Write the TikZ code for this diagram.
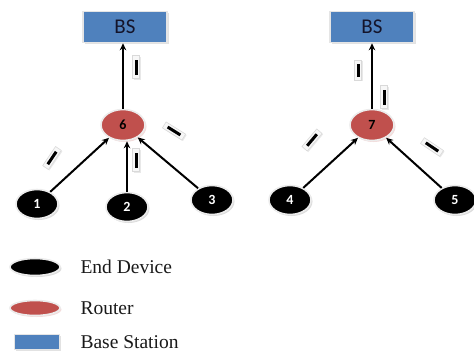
\documentclass[tikz,border=0pt]{standalone}
\usepackage{fontspec}
\setmainfont{Liberation Serif}
\newfontfamily\calib{Carlito}
\usetikzlibrary{shapes.geometric,shadows,arrows.meta}
\definecolor{rred}{HTML}{C0504D}
\definecolor{bblue}{HTML}{4F81BD}
\definecolor{bstext}{HTML}{14142A}
\begin{document}
\begin{tikzpicture}[x=1pt,y=-1pt,
 enddev/.style={ellipse, fill=black, draw=gray!15, line width=1.6pt, minimum width=42pt, minimum height=29pt, inner sep=0pt, text=white, font=\calib\bfseries\fontsize{14}{14}\selectfont, drop shadow={shadow xshift=1.5pt, shadow yshift=-1.5pt, fill=gray!55}},
 router/.style={ellipse, fill=rred, draw=gray!15, line width=1.6pt, minimum width=44pt, minimum height=31pt, inner sep=0pt, text=black, font=\calib\bfseries\fontsize{14}{14}\selectfont, drop shadow={shadow xshift=1.5pt, shadow yshift=-1.5pt, fill=rred!40}},
 bsbox/.style={rectangle, fill=bblue, draw=gray!20, line width=1.6pt, minimum width=84pt, minimum height=31pt, inner sep=0pt, font=\calib\fontsize{21}{21}\selectfont, text=bstext, drop shadow={shadow xshift=1.5pt, shadow yshift=-1.5pt, fill=gray!45}},
 lbl/.style={rectangle, fill=gray!6, draw=gray!30, line width=0.6pt, minimum width=7pt, minimum height=23pt, inner sep=0pt, drop shadow={shadow xshift=1pt, shadow yshift=-1pt, fill=gray!35}},
 legtext/.style={anchor=west, font=\fontsize{19.5}{19.5}\selectfont, text=black!90},
 conn/.style={-{Stealth[length=7pt,width=6.5pt]}, line width=2pt}]
\useasboundingbox (0,0) rectangle (474,356);

% left cluster
\node[bsbox] (bs1) at (125,27) {\raisebox{-4pt}{BS}};
\node[router] (r6) at (123,125) {6};
\node[enddev] (n1) at (37,204) {1};
\node[enddev] (n2) at (127,207) {2};
\node[enddev] (n3) at (212,200) {3};
\draw[conn] (r6.north) -- (r6.north |- bs1.south);
\draw[conn] (n1) -- (r6);
\draw[conn] (n2.north) -- (n2.north |- r6.south);
\draw[conn] (n3) -- (r6);
\node[lbl] (l1) at (136,67) {\rule{3pt}{15pt}};
\node[lbl] (l2) at (136,160) {\rule{3pt}{15pt}};
\node[lbl, rotate=58] (l3) at (174,131) {\rule{3pt}{15pt}};
\node[lbl, rotate=-34] (l4) at (52,158) {\rule{3pt}{15pt}};

% right cluster
\node[bsbox] (bs2) at (372,27) {\raisebox{-4pt}{BS}};
\node[router] (r7) at (372,125) {7};
\node[enddev] (n4) at (290,200) {4};
\node[enddev] (n5) at (455,200) {5};
\draw[conn] (r7.north) -- (r7.north |- bs2.south);
\draw[conn] (n4) -- (r7);
\draw[conn] (n5) -- (r7);
\node[lbl, minimum height=20pt] (l5) at (358,70) {\rule{3pt}{13pt}};
\node[lbl] (l6) at (384,97) {\rule{3pt}{15pt}};
\node[lbl, rotate=-40] (l7) at (312,140) {\rule{3pt}{15pt}};
\node[lbl, rotate=56] (l8) at (432,147) {\rule{3pt}{15pt}};

% legend
\node[enddev, minimum width=50pt, minimum height=17pt] (le) at (35,267) {};
\node[legtext] (te) at (77,267) {End Device};
\node[router, minimum width=50pt, minimum height=15pt] (lr) at (35,308) {};
\node[legtext] (tr) at (77,308) {Router};
\node[bsbox, minimum width=45pt, minimum height=15pt] (lb) at (37,342) {};
\node[legtext] (tb) at (77,342) {Base Station};
\end{tikzpicture}
\end{document}
